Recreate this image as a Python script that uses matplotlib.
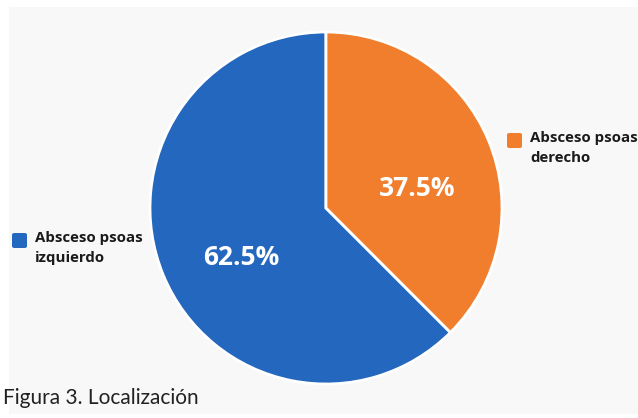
import matplotlib.pyplot as plt
import matplotlib.patches as mpatches

# data
labels = ["Absceso psoas\nizquierdo", "Absceso psoas\nderecho"]
values = [62.5, 37.5]
colors = ["#2467BE", "#F07E2D"]
caption = "Figura 3. Localización"

W, H = 638, 418
fig = plt.figure(figsize=(W / 100, H / 100), dpi=100)
fig.patch.set_facecolor("white")

# light panel behind the chart
fig.patches.append(mpatches.Rectangle((9 / W, 4 / H), 1 - 9 / W, 1 - 11 / H,
                                      transform=fig.transFigure, facecolor="#f8f8f8",
                                      edgecolor="none", zorder=-5))

ax = fig.add_axes([150 / W, 34 / H, 352 / W, 352 / H])
ax.set_zorder(2)
ax.patch.set_visible(False)
wedges, texts, autotexts = ax.pie(
    values,
    colors=colors,
    startangle=90,
    autopct="%1.1f%%",
    pctdistance=0.55,
    wedgeprops=dict(linewidth=2, edgecolor="white"),
    textprops=dict(color="white", fontsize=19, fontweight="bold", family="Open Sans"),
)
ax.set_xlim(-1, 1)
ax.set_ylim(-1, 1)
ax.set_aspect("equal")

# nudge the percentage labels to where the reference has them
autotexts[0].set_position((-0.48, -0.28))
autotexts[1].set_position((0.52, 0.11))

# side labels with a small rounded colour key (pixel positions from the top-left)
for w, lab, (px, py) in [(wedges[0], labels[0], (12, 233)),
                         (wedges[1], labels[1], (507, 133))]:
    key = mpatches.FancyBboxPatch((px / W, 1 - (py + 15) / H), 15 / W, 15 / H,
                                  boxstyle="round,pad=0,rounding_size=0.004",
                                  transform=fig.transFigure,
                                  facecolor=w.get_facecolor(), edgecolor="none")
    fig.patches.append(key)
    fig.text((px + 23) / W, 1 - (py - 2) / H, lab, ha="left", va="top",
             fontsize=10.8, fontweight="bold", family="Open Sans",
             color="#1a1a1a", linespacing=1.55)

fig.text(3 / W, 1 - 398 / H, caption, ha="left", va="center",
         fontsize=15, family="Lato", color="#222222")

fig.savefig("out.png", dpi=100, facecolor="white")
